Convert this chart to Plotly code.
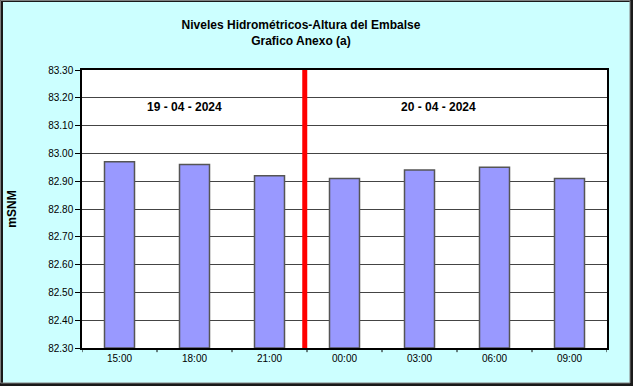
import plotly.graph_objects as go

categories = ["15:00", "18:00", "21:00", "00:00", "03:00", "06:00", "09:00"]
levels = [82.97, 82.96, 82.92, 82.91, 82.94, 82.95, 82.91]
y_ticks = [82.30, 82.40, 82.50, 82.60, 82.70, 82.80, 82.90, 83.00, 83.10, 83.20, 83.30]
title_lines = ["Niveles Hidrométricos-Altura del Embalse", "Grafico Anexo (a)"]
date_labels = ["19 - 04 - 2024", "20 - 04 - 2024"]
y_title = "mSNM"

FONT = "Liberation Sans, Arial, sans-serif"

fig = go.Figure()
fig.add_trace(go.Bar(
    x=list(range(len(categories))),
    y=[v - y_ticks[0] for v in levels],
    base=y_ticks[0],
    marker=dict(color="#9999FF", line=dict(color="#555555", width=1.5)),
    width=0.4,
    hoverinfo="skip",
))

fig.update_layout(
    width=633, height=386,
    margin=dict(l=82, r=26, t=70, b=38),
    paper_bgcolor="#CCFFFF",
    plot_bgcolor="#FFFFFF",
    showlegend=False,
    font=dict(family=FONT, size=11, color="#000000"),
    title=dict(
        text="<b>" + title_lines[0] + "<br>" + title_lines[1] + "</b>",
        x=0.4755, xanchor="center", y=0.925, yanchor="middle",
        font=dict(family=FONT, size=12, color="#000000"),
    ),
    xaxis=dict(
        tickmode="array",
        tickvals=list(range(len(categories))),
        ticktext=categories,
        range=[-0.5, len(categories) - 0.5],
        showgrid=False,
        showline=True, linecolor="#000000", linewidth=1.5, mirror=True,
        ticks="", tickfont=dict(size=10),
        zeroline=False,
    ),
    yaxis=dict(
        range=[y_ticks[0], y_ticks[-1]],
        tickmode="array",
        tickvals=y_ticks,
        ticktext=[f"{v:.2f}" for v in y_ticks],
        showgrid=True, gridcolor="#444444", gridwidth=1,
        showline=True, linecolor="#000000", linewidth=1.5, mirror=True,
        ticks="outside", ticklen=5, tickcolor="#000000",
        tickfont=dict(size=10),
        zeroline=False,
        title=dict(text="<b>" + y_title + "</b>", font=dict(size=12), standoff=29),
    ),
)

# x-axis tick marks at category boundaries
for i in range(len(categories) + 1):
    fig.add_shape(type="line", xref="x", yref="paper",
                  x0=i - 0.5, x1=i - 0.5, y0=0, y1=-0.015,
                  line=dict(color="#000000", width=1))

# red separator between days
fig.add_shape(type="line", xref="x", yref="paper",
              x0=2.47, x1=2.47, y0=0, y1=1,
              line=dict(color="#FF0000", width=5))

# date labels
fig.add_annotation(x=0.87, y=0.867, xref="x", yref="paper", yanchor="middle",
                   text="<b>" + date_labels[0] + "</b>",
                   showarrow=False, font=dict(family=FONT, size=12, color="#000000"))
fig.add_annotation(x=4.25, y=0.867, xref="x", yref="paper", yanchor="middle",
                   text="<b>" + date_labels[1] + "</b>",
                   showarrow=False, font=dict(family=FONT, size=12, color="#000000"))

# outer frame with shadow
fig.add_shape(type="rect", xref="paper", yref="paper",
              x0=-80.5/525, x1=1 + 24.5/525, y0=-36.5/278, y1=1 + 69.5/278,
              line=dict(color="#1a1a1a", width=3), layer="above")
fig.add_shape(type="rect", xref="paper", yref="paper",
              x0=-81.5/525, x1=1 + 23/525, y0=-35/278, y1=1 + 69.5/278,
              line=dict(color="#808080", width=1), layer="above")

fig.write_html("out.html", config={"displayModeBar": False},
               post_script="document.body.style.margin='0';")
